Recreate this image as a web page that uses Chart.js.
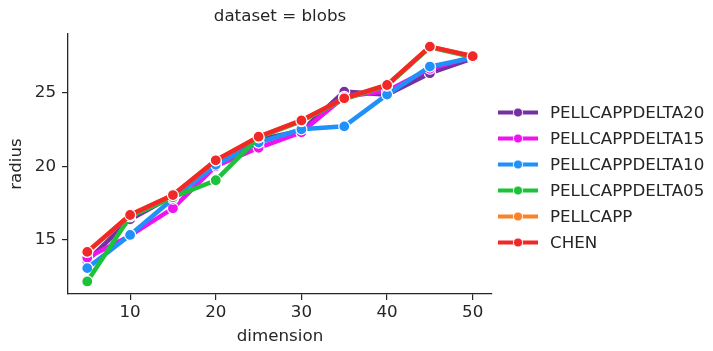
<!DOCTYPE html>
<html>
<head>
<meta charset="utf-8">
<script src="https://cdn.jsdelivr.net/npm/chart.js@4.4.1/dist/chart.umd.min.js"></script>
<style>
  html, body { margin: 0; padding: 0; background: #fff; }
  #wrap { width: 713px; height: 351px; }
</style>
</head>
<body>
<div id="wrap"><canvas id="radiusChart" width="713" height="351"></canvas></div>
<script>
const dimensions = [5, 10, 15, 20, 25, 30, 35, 40, 45, 50];

const delta20 = [13.6, 16.4, 18.0, 20.2, 21.8, 22.4, 25.05, 24.85, 26.3, 27.3];
const delta15 = [13.8, 15.3, 17.15, 20.0, 21.25, 22.3, 24.7, 25.1, 26.6, 27.4];
const delta10 = [13.1, 15.35, 17.8, 20.1, 21.6, 22.5, 22.7, 24.85, 26.75, 27.35];
const delta05 = [12.2, 16.6, 17.9, 19.05, 21.95, 23.05, 24.55, 25.45, 28.05, 27.4];
const pellcapp = [14.2, 16.7, 18.05, 20.4, 22.0, 23.1, 24.6, 25.5, 28.1, 27.45];
const chen = [14.2, 16.7, 18.05, 20.4, 22.0, 23.1, 24.6, 25.5, 28.1, 27.45];

const seriesNames = ['PELLCAPPDELTA20', 'PELLCAPPDELTA15', 'PELLCAPPDELTA10', 'PELLCAPPDELTA05', 'PELLCAPP', 'CHEN'];
const seriesValues = [delta20, delta15, delta10, delta05, pellcapp, chen];
const seriesColors = ['#7530a3', '#f012f0', '#2090fa', '#1bc23a', '#fb8228', '#f02828'];

const xTicks = [10, 20, 30, 40, 50];
const yTicks = [15, 20, 25];

const FONT = 'DejaVu Sans';
const TXT = '#262626';

// matplotlib-ish legend on the right
const sideLegend = {
  id: 'sideLegend',
  afterDraw(chart) {
    const ctx = chart.ctx;
    ctx.save();
    seriesNames.forEach((name, i) => {
      const y = 112.5 + i * 26;
      ctx.strokeStyle = seriesColors[i];
      ctx.lineWidth = 4;
      ctx.beginPath();
      ctx.moveTo(498, y);
      ctx.lineTo(538, y);
      ctx.stroke();
      ctx.beginPath();
      ctx.arc(518, y, 4.6, 0, Math.PI * 2);
      ctx.fillStyle = seriesColors[i];
      ctx.fill();
      ctx.lineWidth = 1;
      ctx.strokeStyle = '#fff';
      ctx.stroke();
      ctx.fillStyle = TXT;
      ctx.font = '16.7px "' + FONT + '"';
      ctx.textBaseline = 'middle';
      ctx.fillText(name, 550, y + 1);
    });
    ctx.restore();
  }
};

const ctx = document.getElementById('radiusChart').getContext('2d');

new Chart(ctx, {
  type: 'line',
  data: {
    datasets: seriesNames.map((name, i) => ({
      label: name,
      data: dimensions.map((d, j) => ({ x: d, y: seriesValues[i][j] })),
      borderColor: seriesColors[i],
      backgroundColor: seriesColors[i],
      pointBackgroundColor: seriesColors[i],
      pointBorderColor: '#fff',
      pointBorderWidth: 1.2,
      pointRadius: 5.5,
      borderWidth: 4.5,
      tension: 0,
      order: seriesNames.length - 1 - i // CHEN on top
    }))
  },
  options: {
    responsive: false,
    animation: false,
    devicePixelRatio: 1,
    layout: { padding: { left: 0, right: 221, top: 0, bottom: 0 } },
    plugins: {
      legend: { display: false },
      tooltip: { enabled: false },
      title: {
        display: true,
        text: 'dataset = blobs',
        fullSize: false,
        color: TXT,
        font: { family: FONT, size: 16.7, weight: 'normal' },
        padding: { top: 7, bottom: 7 }
      }
    },
    scales: {
      x: {
        type: 'linear',
        min: 2.75,
        max: 52.25,
        afterBuildTicks: (scale) => { scale.ticks = xTicks.map(v => ({ value: v })); },
        afterFit: (scale) => { scale.height = 57; },
        grid: { drawOnChartArea: false, drawTicks: true, tickLength: 6, color: TXT, lineWidth: 1.2 },
        border: { display: true, color: TXT, width: 1.3 },
        ticks: { color: TXT, font: { family: FONT, size: 16.7 }, padding: 3, maxRotation: 0 },
        title: {
          display: true,
          text: 'dimension',
          color: TXT,
          font: { family: FONT, size: 16.7 },
          padding: { top: 0, bottom: 4 }
        }
      },
      y: {
        min: 11.35,
        max: 28.95,
        afterBuildTicks: (scale) => { scale.ticks = yTicks.map(v => ({ value: v })); },
        afterFit: (scale) => { scale.width = 68; },
        grid: { drawOnChartArea: false, drawTicks: true, tickLength: 6, color: TXT, lineWidth: 1.2 },
        border: { display: true, color: TXT, width: 1.3 },
        ticks: { color: TXT, font: { family: FONT, size: 16.7 }, padding: 6 },
        title: {
          display: true,
          text: 'radius',
          color: TXT,
          font: { family: FONT, size: 16.7 },
          padding: { top: 7, bottom: 0 }
        }
      }
    }
  },
  plugins: [sideLegend]
});
</script>
</body>
</html>
